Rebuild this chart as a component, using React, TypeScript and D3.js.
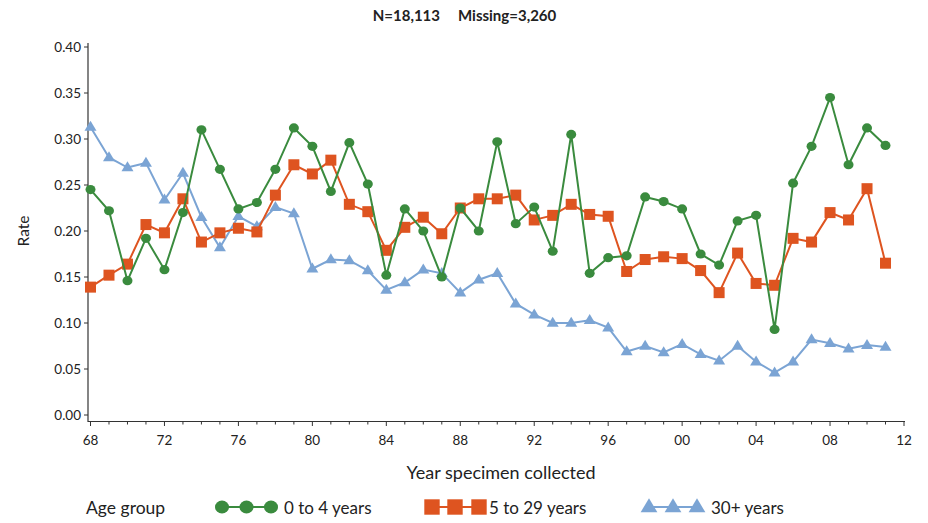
import React from "react";
import * as d3 from "d3";

const years = d3.range(1968, 2012);
const green = [0.245, 0.222, 0.146, 0.192, 0.158, 0.220, 0.310, 0.267, 0.224, 0.231, 0.267, 0.312, 0.292, 0.243, 0.296, 0.251, 0.152, 0.224, 0.200, 0.150, 0.225, 0.200, 0.297, 0.208, 0.226, 0.178, 0.305, 0.154, 0.171, 0.173, 0.237, 0.232, 0.224, 0.175, 0.163, 0.211, 0.217, 0.093, 0.252, 0.292, 0.345, 0.272, 0.312, 0.293];
const orange = [0.139, 0.152, 0.164, 0.207, 0.198, 0.235, 0.188, 0.198, 0.203, 0.199, 0.239, 0.272, 0.262, 0.277, 0.229, 0.221, 0.179, 0.204, 0.215, 0.197, 0.225, 0.235, 0.235, 0.239, 0.212, 0.217, 0.229, 0.218, 0.216, 0.156, 0.169, 0.172, 0.170, 0.157, 0.133, 0.176, 0.143, 0.141, 0.192, 0.188, 0.220, 0.212, 0.246, 0.165];
const blue = [0.313, 0.280, 0.269, 0.274, 0.234, 0.263, 0.215, 0.182, 0.216, 0.205, 0.226, 0.219, 0.159, 0.169, 0.168, 0.157, 0.136, 0.144, 0.158, 0.154, 0.133, 0.147, 0.154, 0.121, 0.109, 0.100, 0.100, 0.103, 0.095, 0.069, 0.075, 0.068, 0.077, 0.066, 0.059, 0.075, 0.058, 0.046, 0.058, 0.082, 0.078, 0.072, 0.076, 0.074];
const yTicks = [0, 0.05, 0.1, 0.15, 0.2, 0.25, 0.3, 0.35, 0.4];
const xMajor = [1968, 1972, 1976, 1980, 1984, 1988, 1992, 1996, 2000, 2004, 2008, 2012];
const seriesNames = ["0 to 4 years", "5 to 29 years", "30+ years"];
const titleParts = ["N=18,113", "Missing=3,260"];

const GREEN = "#3a8b3e";
const ORANGE = "#de5420";
const BLUE = "#7ba4d4";
const FONT = "Lato, 'Open Sans', sans-serif";

const x = d3.scaleLinear().domain([1968, 2012]).range([90.5, 904]);
const y = d3.scaleLinear().domain([0, 0.4]).range([415, 47]);

function Marker({ kind, cx, cy, color, s = 1 }: any) {
  if (kind === "circle") return <ellipse cx={cx} cy={cy} rx={5 * s} ry={4.6 * s} fill={color} />;
  if (kind === "square") return <rect x={cx - 5.5 * s} y={cy - 5.5 * s} width={11 * s} height={11 * s} fill={color} />;
  const h = 10 * s, w = 12 * s;
  return <path d={`M${cx},${cy - h * 0.62} L${cx + w / 2},${cy + h * 0.38} L${cx - w / 2},${cy + h * 0.38} Z`} fill={color} />;
}

export default function App() {
  const line = d3.line<number>().x((_, i) => x(years[i])).y((d) => y(d));
  const series = [
    { vals: blue, color: BLUE, kind: "tri" },
    { vals: orange, color: ORANGE, kind: "square" },
    { vals: green, color: GREEN, kind: "circle" },
  ];
  const axisColor = "#333";
  return (
    <svg width={928} height={523} style={{ position: "absolute", left: 0, top: 0, background: "#fff" }} fontFamily={FONT}>
      <rect width={928} height={523} fill="#fff" />
      <text x={440} y={20.5} textAnchor="end" fontSize={15} fontWeight={700} fill="#222">{titleParts[0]}</text>
      <text x={458} y={20.5} textAnchor="start" fontSize={15} fontWeight={700} fill="#222">{titleParts[1]}</text>
      {/* y axis */}
      <line x1={88} x2={88} y1={43} y2={422} stroke={axisColor} strokeWidth={1.2} />
      {yTicks.map((t) => (
        <g key={t}>
          <line x1={84} x2={88} y1={y(t)} y2={y(t)} stroke={axisColor} strokeWidth={1} />
          <text x={81} y={y(t)} dy="0.35em" textAnchor="end" fontSize={13.5} fill="#222">{d3.format(".2f")(t)}</text>
        </g>
      ))}
      <text transform={`translate(29,231) rotate(-90)`} textAnchor="middle" fontSize={15.5} fill="#222">Rate</text>
      {/* x axis */}
      <line x1={88} x2={905} y1={421.5} y2={421.5} stroke={axisColor} strokeWidth={1.2} />
      {d3.range(1968, 2013).map((yr) => (
        <line key={yr} x1={x(yr)} x2={x(yr)} y1={421.5} y2={xMajor.includes(yr) ? 426 : 424.5} stroke={axisColor} strokeWidth={1} />
      ))}
      {xMajor.map((yr) => (
        <text key={yr} x={x(yr)} y={445} textAnchor="middle" fontSize={13.5} fill="#222">{String(yr % 100).padStart(2, "0")}</text>
      ))}
      <text x={501} y={479} textAnchor="middle" fontSize={18} fill="#222">Year specimen collected</text>
      {/* series */}
      {series.map((s, k) => (
        <g key={k}>
          <path d={line(s.vals) || ""} fill="none" stroke={s.color} strokeWidth={2} />
          {s.vals.map((v, i) => (
            <Marker key={i} kind={s.kind} cx={x(years[i])} cy={y(v)} color={s.color} />
          ))}
        </g>
      ))}
      {/* legend */}
      <text x={86} y={514} fontSize={17.5} fill="#222">Age group</text>
      {[
        { cx: [222, 246.5, 271], color: GREEN, kind: "circle", tx: 284 },
        { cx: [432, 455, 479], color: ORANGE, kind: "square", tx: 489 },
        { cx: [649, 673, 697], color: BLUE, kind: "tri", tx: 711 },
      ].map((l, k) => (
        <g key={k}>
          <line x1={l.cx[0]} x2={l.cx[2]} y1={507} y2={507} stroke={l.color} strokeWidth={2} />
          {l.cx.map((c, j) => (
            <Marker key={j} kind={l.kind} cx={c} cy={507} color={l.color} s={1.4} />
          ))}
          <text x={l.tx} y={514} fontSize={17} fill="#222">{seriesNames[k]}</text>
        </g>
      ))}
    </svg>
  );
}
